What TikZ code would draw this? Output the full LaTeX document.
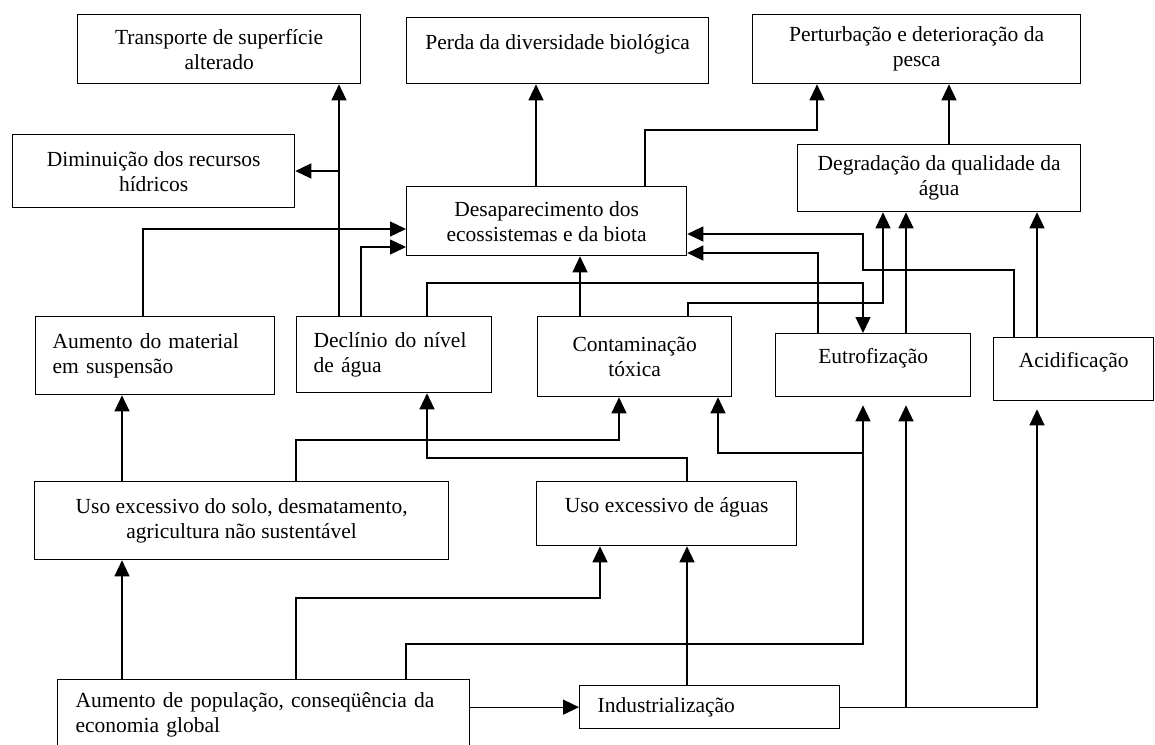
\documentclass[tikz,border=0pt]{standalone}
\usepackage{fontspec}
\setmainfont{Liberation Serif}
\usepackage{tikz}
\usetikzlibrary{arrows.meta}

\begin{document}
\begin{tikzpicture}[x=1pt, y=-1pt,
        box/.style={draw, line width=1.3pt, anchor=north west, inner sep=0pt,
            font=\rmfamily\fontsize{21.5}{25}\selectfont},
        cbox/.style={box, align=center},
        lbox/.style={box, align=left},
        oneline/.style={text depth=18pt},
        ln/.style={line width=1.3pt},
        arr/.style={ln, -{Triangle[length=16pt, width=15pt]}}]
                \def\gap{8pt}
                \useasboundingbox (0,0) rectangle (1155,744);
                % top row
                \node[cbox, minimum width=283, minimum height=69] (tra) at (77,14)
                    {Transporte de superfície\\alterado};
                \node[cbox, oneline, minimum width=302, minimum height=66] (per) at (406,17)
                    {Perda da diversidade biológica};
                \node[cbox, minimum width=328, minimum height=69] (pes) at (752,14)
                    {Perturbação e deterioração da\\pesca};
                \node[cbox, minimum width=282, minimum height=73] (dim) at (12,134)
                    {Diminuição dos recursos\\hídricos};
                \node[cbox, minimum width=280, minimum height=69] (des) at (406,186)
                    {Desaparecimento dos\\ecossistemas e da biota};
                \node[cbox, minimum width=283, minimum height=67] (deg) at (797,144)
                    {Degradação da qualidade da\\água};
                % middle row
                \node[lbox, minimum width=239, minimum height=78, text width=205] (mat) at (35,316)
                    {Aumento do material\\em suspensão};
                \node[lbox, minimum width=195, minimum height=76, text width=161] (dec) at (296,316)
                    {Declínio do nível\\de água};
                \node[cbox, minimum width=194, minimum height=80] (con) at (537,316)
                    {Contaminação\\tóxica};
                \node[cbox, oneline, minimum width=195, minimum height=63] (eut) at (775,333)
                    {Eutrofização};
                \node[cbox, oneline, minimum width=160, minimum height=63] (aci) at (993,337)
                    {Acidificação};
                % bottom rows
                \node[cbox, minimum width=414, minimum height=78] (sol) at (34,481)
                    {Uso excessivo do solo, desmatamento,\\agricultura não sustentável};
                \node[cbox, oneline, minimum width=260, minimum height=64] (agu) at (536,481)
                    {Uso excessivo de águas};
                \node[lbox, minimum width=412, minimum height=70, text width=376] (pop) at (57,679)
                    {Aumento de população, conseqüência da\\economia global};
                \node[lbox, minimum width=260, minimum height=43, text width=224] (ind) at (579,685)
                    {Industrialização};

                % causes at the bottom
                \draw[arr] (122,0 |- pop.north) -- (122,0 |- sol.south);
                \draw[arr] (296,0 |- pop.north) |- (600,598) -- (600,0 |- agu.south);
                \draw[arr, shorten >=\gap] (406,0 |- pop.north) |- (863,644) -- (863,0 |- eut.south);
                \draw[arr] (863,453) -| (718,0 |- con.south);
                \draw[arr] (pop.east |- ind.west) -- (ind.west);
                \draw[arr] (687,0 |- ind.north) -- (687,0 |- agu.south);
                \draw[arr, shorten >=\gap] (ind.east) -| (1037,0 |- aci.south);
                \draw[arr, shorten >=\gap] (906,0 |- ind.east) -- (906,0 |- eut.south);
                \draw[arr] (122,0 |- sol.north) -- (122,0 |- mat.south);
                \draw[arr] (296,0 |- sol.north) |- (619,440) -- (619,0 |- con.south);
                \draw[arr] (687,0 |- agu.north) |- (427,458) -- (427,0 |- dec.south);

                % effects
                \draw[arr] (143,0 |- mat.north) |- (des.west |- 0,229);
                \draw[arr] (339,0 |- dec.north) -- (339,0 |- tra.south);
                \draw[arr] (339,171) -- (dim.east |- 0,171);
                \draw[arr] (361,0 |- dec.north) |- (des.west |- 0,247);
                \draw[arr] (427,0 |- dec.north) |- (863,283) -- (863,0 |- eut.north);
                \draw[arr] (818,0 |- eut.north) |- (des.east |- 0,253);
                \draw[arr] (1014,0 |- aci.north) |- (863,270) |- (des.east |- 0,234);
                \draw[arr] (688,0 |- con.north) |- (883,303) -- (883,0 |- deg.south);
                \draw[arr] (580,0 |- con.north) -- (580,0 |- des.south);
                \draw[arr] (906,0 |- eut.north) -- (906,0 |- deg.south);
                \draw[arr] (1037,0 |- aci.north) -- (1037,0 |- deg.south);
                \draw[arr] (536,0 |- des.north) -- (536,0 |- per.south);
                \draw[arr] (645,0 |- des.north) |- (817,130) -- (817,0 |- pes.south);
                \draw[arr] (949,0 |- deg.north) -- (949,0 |- pes.south);
            \end{tikzpicture}
\end{document}
